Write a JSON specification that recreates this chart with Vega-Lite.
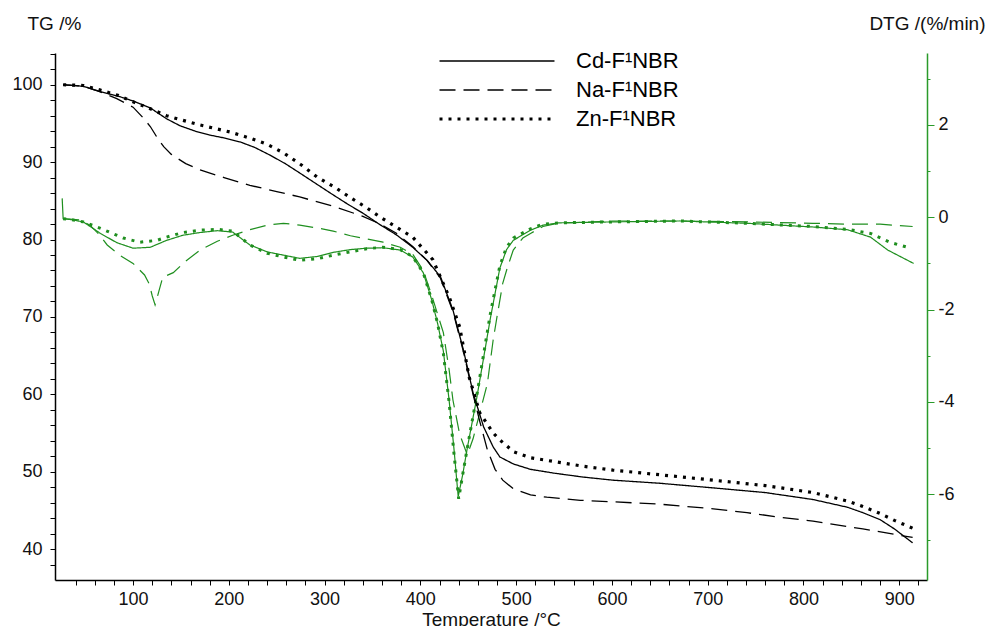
{
"$schema":"https://vega.github.io/schema/vega-lite/v6.json",
"width":872,"height":527,
"autosize":{"type":"none"},
"padding":{"left":55,"top":53,"right":63,"bottom":46},
"background":"white",
"config":{"view":{"stroke":null},"font":"Liberation Sans","axis":{"labelFont":"Liberation Sans","titleFont":"Liberation Sans","labelColor":"#111","titleColor":"#111","titleFontWeight":"normal","grid":false}},
"datasets":{
"tg":[
{"t":27,"v":100,"s":"Cd-F¹NBR"},{"t":48,"v":99.8,"s":"Cd-F¹NBR"},{"t":66,"v":99.1,"s":"Cd-F¹NBR"},{"t":85,"v":98.5,"s":"Cd-F¹NBR"},{"t":100,"v":97.9,"s":"Cd-F¹NBR"},{"t":118,"v":97.0,"s":"Cd-F¹NBR"},{"t":135,"v":95.6,"s":"Cd-F¹NBR"},{"t":149,"v":94.7,"s":"Cd-F¹NBR"},{"t":165,"v":94.0,"s":"Cd-F¹NBR"},{"t":180,"v":93.5,"s":"Cd-F¹NBR"},{"t":196,"v":93.1,"s":"Cd-F¹NBR"},{"t":212,"v":92.6,"s":"Cd-F¹NBR"},{"t":227,"v":91.9,"s":"Cd-F¹NBR"},{"t":243,"v":90.9,"s":"Cd-F¹NBR"},{"t":259,"v":89.8,"s":"Cd-F¹NBR"},{"t":274,"v":88.6,"s":"Cd-F¹NBR"},{"t":290,"v":87.3,"s":"Cd-F¹NBR"},{"t":306,"v":86.0,"s":"Cd-F¹NBR"},{"t":325,"v":84.5,"s":"Cd-F¹NBR"},{"t":340,"v":83.4,"s":"Cd-F¹NBR"},{"t":358,"v":81.9,"s":"Cd-F¹NBR"},{"t":375,"v":80.6,"s":"Cd-F¹NBR"},{"t":392,"v":79.0,"s":"Cd-F¹NBR"},{"t":407,"v":77.3,"s":"Cd-F¹NBR"},{"t":421,"v":75.2,"s":"Cd-F¹NBR"},{"t":434,"v":70.9,"s":"Cd-F¹NBR"},{"t":445,"v":65.7,"s":"Cd-F¹NBR"},{"t":455,"v":60.2,"s":"Cd-F¹NBR"},{"t":466,"v":55.8,"s":"Cd-F¹NBR"},{"t":476,"v":53.2,"s":"Cd-F¹NBR"},{"t":483,"v":51.9,"s":"Cd-F¹NBR"},{"t":497,"v":51.0,"s":"Cd-F¹NBR"},{"t":515,"v":50.3,"s":"Cd-F¹NBR"},{"t":540,"v":49.8,"s":"Cd-F¹NBR"},{"t":570,"v":49.3,"s":"Cd-F¹NBR"},{"t":601,"v":48.9,"s":"Cd-F¹NBR"},{"t":650,"v":48.5,"s":"Cd-F¹NBR"},{"t":706,"v":47.9,"s":"Cd-F¹NBR"},{"t":760,"v":47.3,"s":"Cd-F¹NBR"},{"t":810,"v":46.4,"s":"Cd-F¹NBR"},{"t":846,"v":45.4,"s":"Cd-F¹NBR"},{"t":862,"v":44.7,"s":"Cd-F¹NBR"},{"t":880,"v":43.8,"s":"Cd-F¹NBR"},{"t":895,"v":42.6,"s":"Cd-F¹NBR"},{"t":914,"v":40.8,"s":"Cd-F¹NBR"},
{"t":27,"v":100,"s":"Na-F¹NBR"},{"t":48,"v":99.8,"s":"Na-F¹NBR"},{"t":65,"v":99.1,"s":"Na-F¹NBR"},{"t":83,"v":98.2,"s":"Na-F¹NBR"},{"t":100,"v":97.1,"s":"Na-F¹NBR"},{"t":110,"v":95.8,"s":"Na-F¹NBR"},{"t":118,"v":94.6,"s":"Na-F¹NBR"},{"t":125,"v":93.2,"s":"Na-F¹NBR"},{"t":132,"v":92.0,"s":"Na-F¹NBR"},{"t":140,"v":91.0,"s":"Na-F¹NBR"},{"t":155,"v":89.8,"s":"Na-F¹NBR"},{"t":170,"v":89.0,"s":"Na-F¹NBR"},{"t":195,"v":88.0,"s":"Na-F¹NBR"},{"t":222,"v":87.0,"s":"Na-F¹NBR"},{"t":250,"v":86.2,"s":"Na-F¹NBR"},{"t":274,"v":85.5,"s":"Na-F¹NBR"},{"t":309,"v":84.3,"s":"Na-F¹NBR"},{"t":340,"v":83.0,"s":"Na-F¹NBR"},{"t":358,"v":82.0,"s":"Na-F¹NBR"},{"t":375,"v":80.8,"s":"Na-F¹NBR"},{"t":392,"v":79.1,"s":"Na-F¹NBR"},{"t":407,"v":77.3,"s":"Na-F¹NBR"},{"t":421,"v":75.0,"s":"Na-F¹NBR"},{"t":434,"v":70.7,"s":"Na-F¹NBR"},{"t":445,"v":65.5,"s":"Na-F¹NBR"},{"t":455,"v":60.0,"s":"Na-F¹NBR"},{"t":462,"v":56.5,"s":"Na-F¹NBR"},{"t":470,"v":52.8,"s":"Na-F¹NBR"},{"t":478,"v":50.3,"s":"Na-F¹NBR"},{"t":486,"v":48.9,"s":"Na-F¹NBR"},{"t":497,"v":47.8,"s":"Na-F¹NBR"},{"t":515,"v":47.0,"s":"Na-F¹NBR"},{"t":532,"v":46.7,"s":"Na-F¹NBR"},{"t":567,"v":46.3,"s":"Na-F¹NBR"},{"t":601,"v":46.1,"s":"Na-F¹NBR"},{"t":650,"v":45.8,"s":"Na-F¹NBR"},{"t":706,"v":45.2,"s":"Na-F¹NBR"},{"t":741,"v":44.7,"s":"Na-F¹NBR"},{"t":776,"v":44.1,"s":"Na-F¹NBR"},{"t":810,"v":43.6,"s":"Na-F¹NBR"},{"t":862,"v":42.6,"s":"Na-F¹NBR"},{"t":914,"v":41.5,"s":"Na-F¹NBR"},
{"t":27,"v":100,"s":"Zn-F¹NBR"},{"t":48,"v":99.9,"s":"Zn-F¹NBR"},{"t":66,"v":99.3,"s":"Zn-F¹NBR"},{"t":85,"v":98.6,"s":"Zn-F¹NBR"},{"t":100,"v":97.8,"s":"Zn-F¹NBR"},{"t":118,"v":96.9,"s":"Zn-F¹NBR"},{"t":135,"v":96.0,"s":"Zn-F¹NBR"},{"t":149,"v":95.5,"s":"Zn-F¹NBR"},{"t":170,"v":94.8,"s":"Zn-F¹NBR"},{"t":201,"v":93.9,"s":"Zn-F¹NBR"},{"t":222,"v":93.1,"s":"Zn-F¹NBR"},{"t":240,"v":92.3,"s":"Zn-F¹NBR"},{"t":257,"v":91.2,"s":"Zn-F¹NBR"},{"t":275,"v":89.7,"s":"Zn-F¹NBR"},{"t":292,"v":88.1,"s":"Zn-F¹NBR"},{"t":310,"v":86.8,"s":"Zn-F¹NBR"},{"t":327,"v":85.4,"s":"Zn-F¹NBR"},{"t":344,"v":84.1,"s":"Zn-F¹NBR"},{"t":358,"v":82.9,"s":"Zn-F¹NBR"},{"t":375,"v":81.6,"s":"Zn-F¹NBR"},{"t":392,"v":80.3,"s":"Zn-F¹NBR"},{"t":413,"v":77.4,"s":"Zn-F¹NBR"},{"t":430,"v":72.6,"s":"Zn-F¹NBR"},{"t":441,"v":68.7,"s":"Zn-F¹NBR"},{"t":451,"v":62.2,"s":"Zn-F¹NBR"},{"t":462,"v":57.6,"s":"Zn-F¹NBR"},{"t":476,"v":55.0,"s":"Zn-F¹NBR"},{"t":483,"v":54.1,"s":"Zn-F¹NBR"},{"t":497,"v":52.6,"s":"Zn-F¹NBR"},{"t":515,"v":51.8,"s":"Zn-F¹NBR"},{"t":540,"v":51.3,"s":"Zn-F¹NBR"},{"t":570,"v":50.7,"s":"Zn-F¹NBR"},{"t":601,"v":50.2,"s":"Zn-F¹NBR"},{"t":650,"v":49.6,"s":"Zn-F¹NBR"},{"t":706,"v":48.9,"s":"Zn-F¹NBR"},{"t":760,"v":48.2,"s":"Zn-F¹NBR"},{"t":810,"v":47.3,"s":"Zn-F¹NBR"},{"t":846,"v":46.2,"s":"Zn-F¹NBR"},{"t":862,"v":45.5,"s":"Zn-F¹NBR"},{"t":880,"v":44.6,"s":"Zn-F¹NBR"},{"t":895,"v":43.7,"s":"Zn-F¹NBR"},{"t":914,"v":42.7,"s":"Zn-F¹NBR"}
],
"dtg":[
{"t":26,"v":0.41,"s":"Cd-F¹NBR"},{"t":27,"v":-0.03,"s":"Cd-F¹NBR"},{"t":35,"v":-0.05,"s":"Cd-F¹NBR"},{"t":48,"v":-0.1,"s":"Cd-F¹NBR"},{"t":66,"v":-0.35,"s":"Cd-F¹NBR"},{"t":83,"v":-0.55,"s":"Cd-F¹NBR"},{"t":100,"v":-0.67,"s":"Cd-F¹NBR"},{"t":118,"v":-0.65,"s":"Cd-F¹NBR"},{"t":135,"v":-0.5,"s":"Cd-F¹NBR"},{"t":152,"v":-0.39,"s":"Cd-F¹NBR"},{"t":170,"v":-0.33,"s":"Cd-F¹NBR"},{"t":188,"v":-0.29,"s":"Cd-F¹NBR"},{"t":204,"v":-0.32,"s":"Cd-F¹NBR"},{"t":222,"v":-0.6,"s":"Cd-F¹NBR"},{"t":240,"v":-0.75,"s":"Cd-F¹NBR"},{"t":257,"v":-0.82,"s":"Cd-F¹NBR"},{"t":274,"v":-0.89,"s":"Cd-F¹NBR"},{"t":292,"v":-0.85,"s":"Cd-F¹NBR"},{"t":309,"v":-0.76,"s":"Cd-F¹NBR"},{"t":327,"v":-0.7,"s":"Cd-F¹NBR"},{"t":344,"v":-0.67,"s":"Cd-F¹NBR"},{"t":361,"v":-0.66,"s":"Cd-F¹NBR"},{"t":379,"v":-0.71,"s":"Cd-F¹NBR"},{"t":392,"v":-0.86,"s":"Cd-F¹NBR"},{"t":403,"v":-1.2,"s":"Cd-F¹NBR"},{"t":412,"v":-1.8,"s":"Cd-F¹NBR"},{"t":418,"v":-2.3,"s":"Cd-F¹NBR"},{"t":424,"v":-2.9,"s":"Cd-F¹NBR"},{"t":430,"v":-3.96,"s":"Cd-F¹NBR"},{"t":435,"v":-5.0,"s":"Cd-F¹NBR"},{"t":439.5,"v":-6.05,"s":"Cd-F¹NBR"},{"t":444,"v":-5.6,"s":"Cd-F¹NBR"},{"t":449,"v":-5.0,"s":"Cd-F¹NBR"},{"t":459,"v":-3.9,"s":"Cd-F¹NBR"},{"t":473,"v":-2.2,"s":"Cd-F¹NBR"},{"t":483,"v":-1.1,"s":"Cd-F¹NBR"},{"t":490,"v":-0.7,"s":"Cd-F¹NBR"},{"t":497,"v":-0.5,"s":"Cd-F¹NBR"},{"t":515,"v":-0.28,"s":"Cd-F¹NBR"},{"t":528,"v":-0.17,"s":"Cd-F¹NBR"},{"t":545,"v":-0.12,"s":"Cd-F¹NBR"},{"t":601,"v":-0.1,"s":"Cd-F¹NBR"},{"t":671,"v":-0.08,"s":"Cd-F¹NBR"},{"t":741,"v":-0.13,"s":"Cd-F¹NBR"},{"t":810,"v":-0.21,"s":"Cd-F¹NBR"},{"t":846,"v":-0.27,"s":"Cd-F¹NBR"},{"t":870,"v":-0.43,"s":"Cd-F¹NBR"},{"t":888,"v":-0.71,"s":"Cd-F¹NBR"},{"t":915,"v":-1.0,"s":"Cd-F¹NBR"},
{"t":27,"v":-0.03,"s":"Na-F¹NBR"},{"t":45,"v":-0.06,"s":"Na-F¹NBR"},{"t":55,"v":-0.17,"s":"Na-F¹NBR"},{"t":65,"v":-0.38,"s":"Na-F¹NBR"},{"t":73,"v":-0.6,"s":"Na-F¹NBR"},{"t":86,"v":-0.82,"s":"Na-F¹NBR"},{"t":100,"v":-1.0,"s":"Na-F¹NBR"},{"t":112,"v":-1.25,"s":"Na-F¹NBR"},{"t":117,"v":-1.45,"s":"Na-F¹NBR"},{"t":120,"v":-1.7,"s":"Na-F¹NBR"},{"t":123,"v":-1.9,"s":"Na-F¹NBR"},{"t":127,"v":-1.6,"s":"Na-F¹NBR"},{"t":131,"v":-1.3,"s":"Na-F¹NBR"},{"t":142,"v":-1.2,"s":"Na-F¹NBR"},{"t":155,"v":-0.95,"s":"Na-F¹NBR"},{"t":170,"v":-0.71,"s":"Na-F¹NBR"},{"t":188,"v":-0.52,"s":"Na-F¹NBR"},{"t":204,"v":-0.39,"s":"Na-F¹NBR"},{"t":222,"v":-0.27,"s":"Na-F¹NBR"},{"t":240,"v":-0.17,"s":"Na-F¹NBR"},{"t":257,"v":-0.13,"s":"Na-F¹NBR"},{"t":274,"v":-0.17,"s":"Na-F¹NBR"},{"t":292,"v":-0.23,"s":"Na-F¹NBR"},{"t":309,"v":-0.3,"s":"Na-F¹NBR"},{"t":327,"v":-0.4,"s":"Na-F¹NBR"},{"t":344,"v":-0.47,"s":"Na-F¹NBR"},{"t":361,"v":-0.54,"s":"Na-F¹NBR"},{"t":379,"v":-0.65,"s":"Na-F¹NBR"},{"t":392,"v":-0.8,"s":"Na-F¹NBR"},{"t":403,"v":-1.15,"s":"Na-F¹NBR"},{"t":412,"v":-1.7,"s":"Na-F¹NBR"},{"t":418,"v":-2.1,"s":"Na-F¹NBR"},{"t":424,"v":-2.5,"s":"Na-F¹NBR"},{"t":430,"v":-3.3,"s":"Na-F¹NBR"},{"t":434,"v":-3.96,"s":"Na-F¹NBR"},{"t":441,"v":-4.7,"s":"Na-F¹NBR"},{"t":449,"v":-5.15,"s":"Na-F¹NBR"},{"t":455,"v":-4.8,"s":"Na-F¹NBR"},{"t":462,"v":-4.24,"s":"Na-F¹NBR"},{"t":470,"v":-3.6,"s":"Na-F¹NBR"},{"t":476,"v":-2.66,"s":"Na-F¹NBR"},{"t":480,"v":-2.16,"s":"Na-F¹NBR"},{"t":486,"v":-1.43,"s":"Na-F¹NBR"},{"t":491,"v":-1.08,"s":"Na-F¹NBR"},{"t":497,"v":-0.71,"s":"Na-F¹NBR"},{"t":507,"v":-0.45,"s":"Na-F¹NBR"},{"t":515,"v":-0.35,"s":"Na-F¹NBR"},{"t":528,"v":-0.2,"s":"Na-F¹NBR"},{"t":543,"v":-0.13,"s":"Na-F¹NBR"},{"t":601,"v":-0.08,"s":"Na-F¹NBR"},{"t":671,"v":-0.08,"s":"Na-F¹NBR"},{"t":741,"v":-0.1,"s":"Na-F¹NBR"},{"t":810,"v":-0.13,"s":"Na-F¹NBR"},{"t":846,"v":-0.15,"s":"Na-F¹NBR"},{"t":880,"v":-0.15,"s":"Na-F¹NBR"},{"t":914,"v":-0.2,"s":"Na-F¹NBR"},
{"t":27,"v":-0.03,"s":"Zn-F¹NBR"},{"t":35,"v":-0.05,"s":"Zn-F¹NBR"},{"t":48,"v":-0.1,"s":"Zn-F¹NBR"},{"t":66,"v":-0.24,"s":"Zn-F¹NBR"},{"t":90,"v":-0.45,"s":"Zn-F¹NBR"},{"t":107,"v":-0.54,"s":"Zn-F¹NBR"},{"t":125,"v":-0.5,"s":"Zn-F¹NBR"},{"t":135,"v":-0.43,"s":"Zn-F¹NBR"},{"t":152,"v":-0.33,"s":"Zn-F¹NBR"},{"t":170,"v":-0.28,"s":"Zn-F¹NBR"},{"t":188,"v":-0.26,"s":"Zn-F¹NBR"},{"t":204,"v":-0.3,"s":"Zn-F¹NBR"},{"t":222,"v":-0.6,"s":"Zn-F¹NBR"},{"t":240,"v":-0.78,"s":"Zn-F¹NBR"},{"t":257,"v":-0.86,"s":"Zn-F¹NBR"},{"t":274,"v":-0.93,"s":"Zn-F¹NBR"},{"t":292,"v":-0.9,"s":"Zn-F¹NBR"},{"t":309,"v":-0.82,"s":"Zn-F¹NBR"},{"t":327,"v":-0.75,"s":"Zn-F¹NBR"},{"t":344,"v":-0.68,"s":"Zn-F¹NBR"},{"t":361,"v":-0.65,"s":"Zn-F¹NBR"},{"t":379,"v":-0.7,"s":"Zn-F¹NBR"},{"t":392,"v":-0.85,"s":"Zn-F¹NBR"},{"t":403,"v":-1.2,"s":"Zn-F¹NBR"},{"t":412,"v":-1.8,"s":"Zn-F¹NBR"},{"t":418,"v":-2.3,"s":"Zn-F¹NBR"},{"t":424,"v":-2.95,"s":"Zn-F¹NBR"},{"t":430,"v":-4.0,"s":"Zn-F¹NBR"},{"t":435,"v":-5.1,"s":"Zn-F¹NBR"},{"t":440,"v":-6.1,"s":"Zn-F¹NBR"},{"t":444,"v":-5.6,"s":"Zn-F¹NBR"},{"t":449,"v":-5.0,"s":"Zn-F¹NBR"},{"t":459,"v":-3.85,"s":"Zn-F¹NBR"},{"t":473,"v":-2.1,"s":"Zn-F¹NBR"},{"t":483,"v":-1.05,"s":"Zn-F¹NBR"},{"t":490,"v":-0.65,"s":"Zn-F¹NBR"},{"t":497,"v":-0.45,"s":"Zn-F¹NBR"},{"t":515,"v":-0.25,"s":"Zn-F¹NBR"},{"t":528,"v":-0.15,"s":"Zn-F¹NBR"},{"t":545,"v":-0.12,"s":"Zn-F¹NBR"},{"t":601,"v":-0.1,"s":"Zn-F¹NBR"},{"t":671,"v":-0.08,"s":"Zn-F¹NBR"},{"t":741,"v":-0.13,"s":"Zn-F¹NBR"},{"t":810,"v":-0.2,"s":"Zn-F¹NBR"},{"t":846,"v":-0.26,"s":"Zn-F¹NBR"},{"t":870,"v":-0.35,"s":"Zn-F¹NBR"},{"t":890,"v":-0.54,"s":"Zn-F¹NBR"},{"t":912,"v":-0.67,"s":"Zn-F¹NBR"}
]
},
"layer":[
{"data":{"name":"dtg"},
 "encoding":{
  "x":{"field":"t","type":"quantitative","scale":{"domain":[18.5,929],"nice":false,"zero":false},
   "axis":{"title":"Temperature /°C","values":[40,60,80,100,120,140,160,180,200,220,240,260,280,300,320,340,360,380,400,420,440,460,480,500,520,540,560,580,600,620,640,660,680,700,720,740,760,780,800,820,840,860,880,900,920],
    "labelExpr":"datum.value % 100 === 0 ? datum.label : ''","labelOverlap":false,"labelFlush":false,"labelFontSize":18,"labelPadding":5,"tickSize":5,"tickColor":"black","tickWidth":1,"domainColor":"black","domainWidth":1.5,
    "titleFontSize":19,"titleX":436,"titleY":45,"titleAlign":"center","titleBaseline":"alphabetic"}},
  "y":{"field":"v","type":"quantitative","scale":{"domain":[-7.86,3.56],"nice":false,"zero":false},
   "axis":{"orient":"right","title":"DTG /(%/min)","values":[-7,-6,-5,-4,-3,-2,-1,0,1,2,3],
    "labelExpr":"datum.value % 2 === 0 ? '' + datum.value : ''",
    "tickSize":{"condition":{"test":"datum.value % 2 === 0","value":7},"value":3},
    "labelPadding":4,"domainColor":"#2a9a2a","tickColor":"#2a9a2a","domainWidth":1.5,"tickWidth":1,"labelFontSize":18,"labelOverlap":false,"labelFlush":false,
    "titleAngle":0,"titleAlign":"right","titleBaseline":"alphabetic","titleX":58,"titleY":-24,"titleFontSize":19}},
  "strokeDash":{"field":"s","type":"nominal","scale":{"domain":["Cd-F¹NBR","Na-F¹NBR","Zn-F¹NBR"],"range":[[1,0],[16,8],[3,6]]},
   "legend":{"title":null,"orient":"none","legendX":431,"legendY":-3,"symbolType":"M-5,0H5","symbolSize":529,"symbolStrokeColor":"black","labelFontSize":22,"labelOffset":68,"rowPadding":7,"labelColor":"black","padding":0,
    "encode":{"symbols":{"update":{"strokeWidth":{"signal":"datum.value === 'Zn-F¹NBR' ? 3.2 : 1.4"}},"strokeWidth":{"value":{"expr":"datum.value === 'Zn-F¹NBR' ? 3.2 : 1.4"}}}}}}
 },
 "layer":[
  {"transform":[{"filter":"datum.s !== 'Zn-F¹NBR'"}],"mark":{"type":"line","color":"#1f8f1f","strokeWidth":1.2,"strokeCap":"butt"}},
  {"transform":[{"filter":"datum.s === 'Zn-F¹NBR'"}],"mark":{"type":"line","color":"#1f8f1f","strokeWidth":3,"strokeCap":"butt"}}
 ]},
{"data":{"name":"tg"},
 "encoding":{
  "x":{"field":"t","type":"quantitative","scale":{"domain":[18.5,929],"nice":false,"zero":false},
   "axis":{"title":"Temperature /°C","values":[40,60,80,100,120,140,160,180,200,220,240,260,280,300,320,340,360,380,400,420,440,460,480,500,520,540,560,580,600,620,640,660,680,700,720,740,760,780,800,820,840,860,880,900,920],
    "labelExpr":"datum.value % 100 === 0 ? datum.label : ''","labelOverlap":false,"labelFlush":false,"labelFontSize":18,"labelPadding":5,"tickSize":5,"tickColor":"black","tickWidth":1,"domainColor":"black","domainWidth":1.5,
    "titleFontSize":19,"titleX":436,"titleY":45,"titleAlign":"center","titleBaseline":"alphabetic"}},
  "y":{"field":"v","type":"quantitative","scale":{"domain":[36,104.1],"nice":false,"zero":false},
   "axis":{"orient":"left","title":"TG /%","values":[38,40,42,44,46,48,50,52,54,56,58,60,62,64,66,68,70,72,74,76,78,80,82,84,86,88,90,92,94,96,98,100,102,104],
    "labelExpr":"datum.value % 10 === 0 ? datum.label : ''","tickSize":5,"labelPadding":8,"domainColor":"black","domainWidth":1.5,"tickColor":"black","tickWidth":1,"labelFontSize":18,"labelOverlap":false,"labelFlush":false,
    "titleAngle":0,"titleAlign":"left","titleBaseline":"alphabetic","titleX":-28,"titleY":-24,"titleFontSize":19}},
  "strokeDash":{"field":"s","type":"nominal","scale":{"domain":["Cd-F¹NBR","Na-F¹NBR","Zn-F¹NBR"],"range":[[1,0],[16,8],[3,6]]},
   "legend":{"title":null,"orient":"none","legendX":431,"legendY":-3,"symbolType":"M-5,0H5","symbolSize":529,"symbolStrokeColor":"black","labelFontSize":22,"labelOffset":68,"rowPadding":7,"labelColor":"black","padding":0,
    "encode":{"symbols":{"update":{"strokeWidth":{"signal":"datum.value === 'Zn-F¹NBR' ? 3.2 : 1.4"}},"strokeWidth":{"value":{"expr":"datum.value === 'Zn-F¹NBR' ? 3.2 : 1.4"}}}}}}
 },
 "layer":[
  {"transform":[{"filter":"datum.s !== 'Zn-F¹NBR'"}],"mark":{"type":"line","color":"black","strokeWidth":1.3,"strokeCap":"butt"}},
  {"transform":[{"filter":"datum.s === 'Zn-F¹NBR'"}],"mark":{"type":"line","color":"black","strokeWidth":3.2,"strokeCap":"butt"}}
 ]}
],
"resolve":{"scale":{"y":"independent"}}
}
